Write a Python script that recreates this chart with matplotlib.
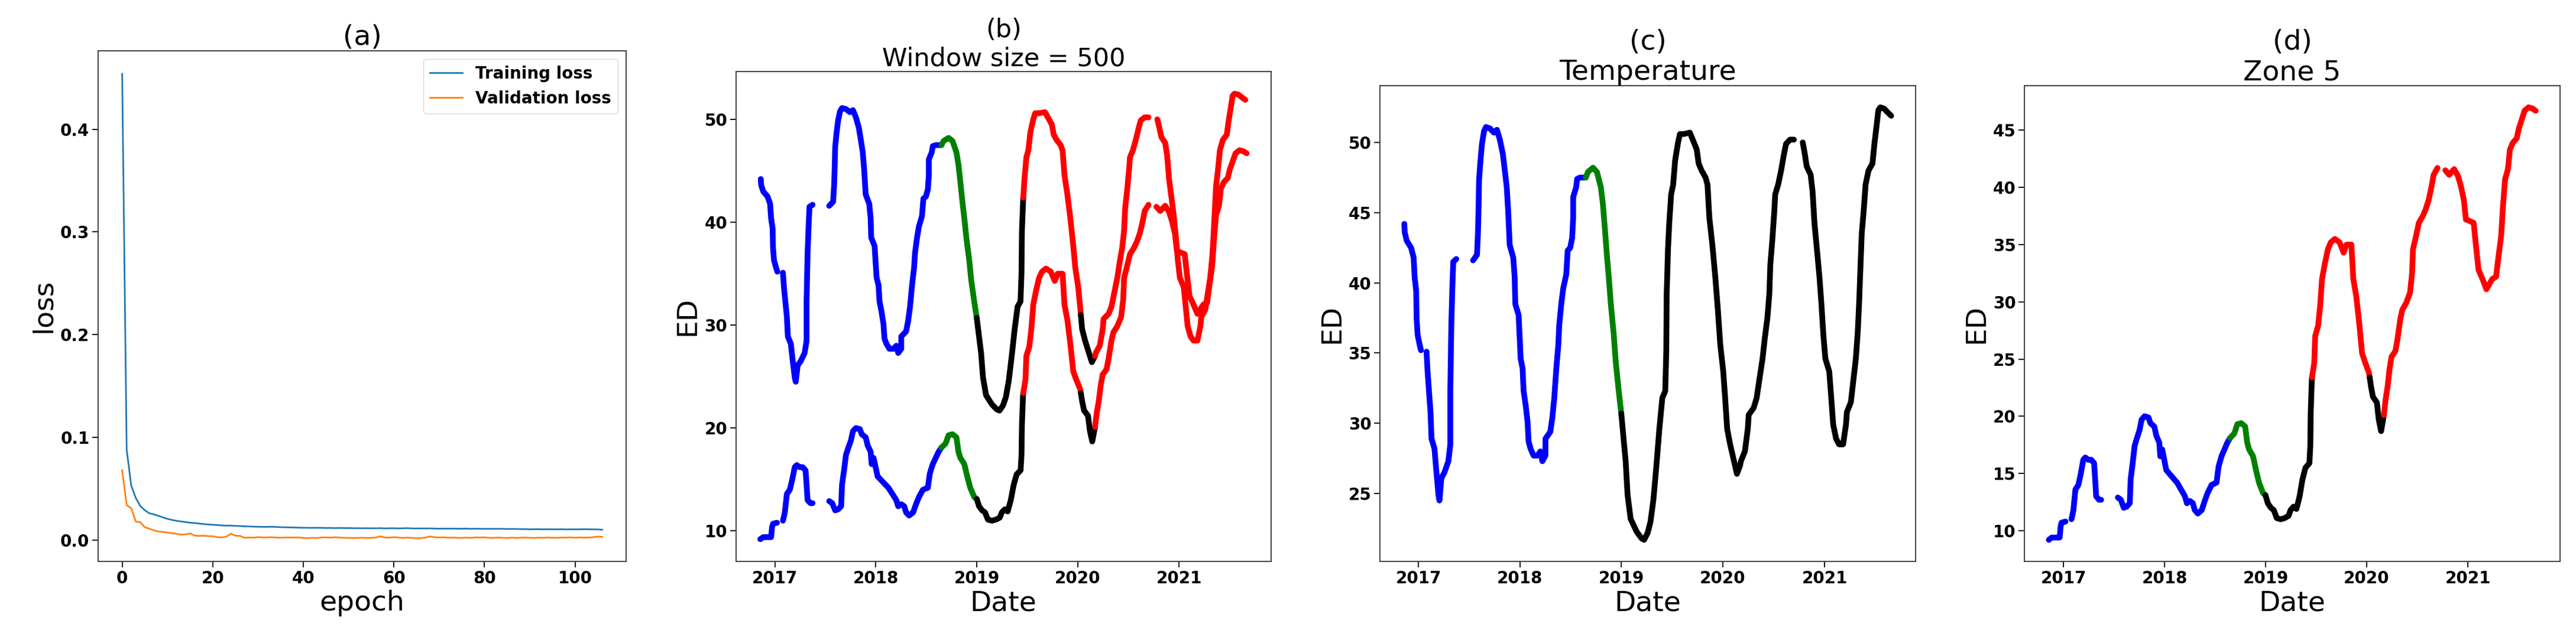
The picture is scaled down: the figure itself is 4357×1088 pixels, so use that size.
import numpy as np
import matplotlib
matplotlib.use('Agg')
import matplotlib.pyplot as plt
import matplotlib.dates as mdates
from datetime import datetime

nan = np.nan

# ---- (a) loss curves ----
train_loss = [0.454, 0.088, 0.053, 0.041, 0.033, 0.029, 0.026, 0.025, 0.0235, 0.022,
              0.0206, 0.0195, 0.0187, 0.018, 0.0175, 0.0168, 0.0165, 0.016, 0.0155, 0.0151,
              0.0148, 0.0146, 0.0142, 0.014, 0.0141, 0.0137, 0.0136, 0.0133, 0.0132, 0.013,
              0.0129, 0.0128, 0.0128, 0.0129, 0.0127, 0.0125, 0.0124, 0.0123, 0.0122, 0.012,
              0.0119, 0.0119, 0.0118, 0.0119, 0.0118, 0.0117, 0.0117, 0.0116, 0.0117, 0.0116,
              0.0116, 0.0115, 0.0115, 0.0114, 0.0115, 0.0114, 0.0114, 0.0115, 0.0113, 0.0114,
              0.0114, 0.0113, 0.0114, 0.0115, 0.0113, 0.0112, 0.0113, 0.0112, 0.0113, 0.0111,
              0.0110, 0.0111, 0.0110, 0.0111, 0.0110, 0.0110, 0.0111, 0.0109, 0.0110, 0.0109,
              0.0108, 0.0109, 0.0108, 0.0109, 0.0108, 0.0107, 0.0108, 0.0107, 0.0106, 0.0106,
              0.0104, 0.0105, 0.0105, 0.0104, 0.0105, 0.0104, 0.0104, 0.0105, 0.0103, 0.0104,
              0.0104, 0.0104, 0.0105, 0.0104, 0.0104, 0.0103, 0.0100]
val_loss = [0.068, 0.034, 0.031, 0.018, 0.0172, 0.0125, 0.011, 0.0093, 0.0082, 0.0078,
            0.0072, 0.0066, 0.006, 0.0052, 0.0055, 0.0064, 0.0043, 0.004, 0.0041, 0.0038,
            0.0036, 0.0028, 0.0025, 0.0032, 0.0061, 0.0042, 0.0040, 0.0022, 0.0024, 0.0023,
            0.0028, 0.0026, 0.0025, 0.0027, 0.0024, 0.0023, 0.0024, 0.0025, 0.0024, 0.0025,
            0.0019, 0.0018, 0.0021, 0.0019, 0.0025, 0.0026, 0.0023, 0.0027, 0.0024, 0.0022,
            0.0020, 0.0019, 0.0020, 0.0022, 0.0019, 0.0021, 0.0024, 0.0036, 0.0025, 0.0023,
            0.0028, 0.0024, 0.0020, 0.0023, 0.0021, 0.0017, 0.0019, 0.0024, 0.0035, 0.0027,
            0.0025, 0.0026, 0.0023, 0.0024, 0.0021, 0.0020, 0.0023, 0.0021, 0.0025, 0.0024,
            0.0026, 0.0021, 0.0020, 0.0024, 0.0021, 0.0019, 0.0023, 0.0020, 0.0022, 0.0024,
            0.0021, 0.0020, 0.0023, 0.0021, 0.0024, 0.0022, 0.0021, 0.0024, 0.0023, 0.0026,
            0.0022, 0.0025, 0.0023, 0.0024, 0.0027, 0.0034, 0.0030]

# ---- ED series (decimal year, value); nan = gap in record ----
upper_years = [2016.863, 2016.867, 2016.887, 2016.930, 2016.955, 2016.965, 2016.980, 2016.984, 2016.994, 2017.014, 2017.027,
               nan,
               2017.082, 2017.092, 2017.111, 2017.121, 2017.131, 2017.160, 2017.176, 2017.199, 2017.209, 2017.228,
               2017.258, 2017.297, 2017.316, 2017.316, 2017.326, 2017.336, 2017.345, 2017.375,
               nan,
               2017.540, 2017.579, 2017.589, 2017.595, 2017.599, 2017.613, 2017.628, 2017.648, 2017.667, 2017.706,
               2017.745, 2017.775, 2017.804, 2017.833, 2017.853, 2017.872, 2017.886, 2017.901, 2017.936, 2017.950,
               2017.956, 2017.989, 2017.999, 2018.009, 2018.028, 2018.038, 2018.058, 2018.077, 2018.087, 2018.106,
               2018.136, 2018.175, 2018.204, 2018.223, 2018.253, 2018.253, 2018.282, 2018.301, 2018.321, 2018.340,
               2018.360, 2018.380, 2018.389, 2018.409, 2018.428, 2018.458, 2018.472, 2018.497, 2018.516, 2018.526,
               2018.526, 2018.555, 2018.565, 2018.594, 2018.633, 2018.650, 2018.672, 2018.721, 2018.760, 2018.799,
               2018.819, 2018.838, 2018.858, 2018.877, 2018.897, 2018.926, 2018.945, 2018.975, 2019.000, 2019.023,
               2019.043, 2019.062, 2019.092, 2019.150, 2019.200, 2019.225, 2019.260, 2019.288, 2019.317, 2019.346,
               2019.375, 2019.404, 2019.433, 2019.443, 2019.447, 2019.460, 2019.472, 2019.491, 2019.511, 2019.530,
               2019.559, 2019.578, 2019.617, 2019.675, 2019.704, 2019.743, 2019.762, 2019.791, 2019.830, 2019.849,
               2019.868, 2019.897, 2019.926, 2019.952, 2019.975, 2020.004, 2020.023, 2020.030, 2020.043, 2020.072,
               2020.110, 2020.139, 2020.170, 2020.178, 2020.217, 2020.246, 2020.255, 2020.304, 2020.333, 2020.362,
               2020.391, 2020.414, 2020.439, 2020.458, 2020.468, 2020.487, 2020.507, 2020.516, 2020.545, 2020.574,
               2020.603, 2020.623, 2020.662, 2020.700,
               nan,
               2020.787, 2020.807, 2020.826, 2020.865, 2020.884, 2020.903, 2020.932, 2020.952, 2020.971, 2020.990,
               2021.010, 2021.048, 2021.068, 2021.087, 2021.116, 2021.145, 2021.184, 2021.213, 2021.222, 2021.261,
               2021.280, 2021.310, 2021.329, 2021.342, 2021.354, 2021.368, 2021.387, 2021.406, 2021.435, 2021.474,
               2021.493, 2021.513, 2021.532, 2021.551, 2021.590, 2021.629, 2021.658]
upper_vals = [44.2, 43.6, 43.0, 42.5, 41.8, 40.4, 39.4, 37.5, 36.3, 35.6, 35.2,
              nan,
              35.1, 33.7, 31.8, 30.8, 28.9, 28.2, 26.8, 24.9, 24.5, 26.1,
              26.5, 27.3, 28.5, 32.3, 37.0, 39.6, 41.5, 41.7,
              nan,
              41.6, 42.0, 43.7, 45.6, 47.3, 48.7, 49.9, 50.8, 51.1, 51.0,
              50.7, 50.9, 50.2, 49.2, 48.0, 46.8, 45.1, 42.7, 41.8, 40.4,
              38.5, 37.7, 36.1, 34.6, 33.9, 32.3, 31.3, 30.1, 28.7, 28.2,
              27.7, 27.7, 28.0, 27.3, 27.7, 28.9, 29.2, 29.4, 30.4, 31.8,
              33.9, 35.6, 37.0, 38.5, 39.6, 40.6, 42.3, 42.5, 43.2, 44.6,
              46.1, 46.8, 47.4, 47.5, 47.5, 47.5, 47.9, 48.2, 47.9, 46.8,
              45.6, 43.9, 42.0, 40.4, 38.5, 36.3, 34.4, 32.3, 30.7, 28.9,
              27.3, 24.9, 23.2, 22.3, 21.8, 21.7, 22.2, 23.0, 24.6, 27.0,
              29.6, 31.8, 32.3, 35.1, 39.2, 42.4, 44.2, 46.3, 47.0, 48.7,
              50.0, 50.6, 50.6, 50.7, 50.2, 49.5, 48.5, 48.0, 47.5, 47.0,
              44.6, 42.7, 40.4, 38.0, 35.6, 33.7, 31.8, 31.0, 29.6, 28.5,
              27.3, 26.4, 27.0, 27.3, 28.0, 29.6, 30.6, 31.1, 31.8, 33.2,
              34.6, 36.1, 37.5, 39.2, 41.3, 43.0, 45.1, 46.3, 47.0, 48.0,
              49.2, 49.9, 50.2, 50.2,
              nan,
              50.0, 49.2, 48.3, 47.7, 46.5, 44.2, 42.0, 40.4, 38.5, 36.3,
              34.6, 33.7, 31.8, 29.9, 28.9, 28.5, 28.5, 29.9, 30.8, 31.5,
              32.7, 34.6, 36.5, 38.5, 40.8, 43.5, 45.1, 47.0, 48.0, 48.5,
              49.9, 51.1, 52.3, 52.5, 52.4, 52.1, 51.9]

lower_years = [2016.858, 2016.887, 2016.926, 2016.965, 2016.975, 2016.984, 2017.023,
               nan,
               2017.082, 2017.101, 2017.121, 2017.150, 2017.170, 2017.199, 2017.219, 2017.248, 2017.277, 2017.306,
               2017.316, 2017.326, 2017.355, 2017.375,
               nan,
               2017.540, 2017.570, 2017.599, 2017.628, 2017.658, 2017.667, 2017.687, 2017.706, 2017.726, 2017.755,
               2017.775, 2017.804, 2017.843, 2017.862, 2017.901, 2017.921, 2017.950, 2017.960, 2017.979, 2017.999,
               2018.019, 2018.048, 2018.087, 2018.126, 2018.165, 2018.204, 2018.223, 2018.253, 2018.282, 2018.301,
               2018.331, 2018.370, 2018.399, 2018.428, 2018.467, 2018.516, 2018.536, 2018.565, 2018.594, 2018.623,
               2018.650, 2018.692, 2018.721, 2018.760, 2018.799, 2018.819, 2018.838, 2018.877, 2018.906, 2018.936,
               2018.975, 2019.000, 2019.023, 2019.053, 2019.082, 2019.111, 2019.150, 2019.189, 2019.228, 2019.248,
               2019.277, 2019.306, 2019.337, 2019.366, 2019.395, 2019.434, 2019.443, 2019.447, 2019.458, 2019.460,
               2019.482, 2019.491, 2019.520, 2019.540, 2019.559, 2019.588, 2019.617, 2019.646, 2019.685, 2019.733,
               2019.772, 2019.801, 2019.849, 2019.868, 2019.897, 2019.926, 2019.955, 2019.985, 2020.023, 2020.030,
               2020.043, 2020.062, 2020.101, 2020.120, 2020.143, 2020.170, 2020.188, 2020.207, 2020.226, 2020.246,
               2020.284, 2020.304, 2020.333, 2020.352, 2020.391, 2020.429, 2020.449, 2020.458, 2020.487, 2020.516,
               2020.555, 2020.584, 2020.613, 2020.642, 2020.662, 2020.700,
               nan,
               2020.778, 2020.816, 2020.865, 2020.903, 2020.932, 2020.961, 2020.981, 2021.010, 2021.058, 2021.077,
               2021.106, 2021.145, 2021.184, 2021.203, 2021.242, 2021.280, 2021.300, 2021.329, 2021.348, 2021.368,
               2021.397, 2021.416, 2021.445, 2021.484, 2021.503, 2021.532, 2021.561, 2021.600, 2021.639, 2021.671]
lower_vals = [9.2, 9.4, 9.4, 9.4, 10.4, 10.7, 10.8,
              nan,
              11.0, 11.8, 13.6, 14.0, 14.8, 16.2, 16.4, 16.2, 16.2, 15.9,
              14.5, 13.0, 12.7, 12.7,
              nan,
              12.9, 12.7, 12.0, 12.1, 12.4, 14.5, 15.9, 17.4, 18.0, 18.8,
              19.7, 20.0, 19.9, 19.4, 19.1, 18.3, 17.7, 16.5, 17.1, 16.2,
              15.3, 15.0, 14.6, 14.2, 13.6, 13.0, 12.4, 12.6, 12.4, 11.8,
              11.5, 11.8, 12.6, 13.3, 14.0, 14.2, 15.6, 16.5, 17.1, 17.7,
              18.1, 18.5, 19.3, 19.4, 19.1, 17.7, 17.1, 16.5, 15.3, 14.2,
              13.3, 13.1, 12.4, 12.0, 11.8, 11.1, 11.0, 11.1, 11.3, 11.8,
              12.1, 11.9, 13.0, 14.5, 15.5, 15.9, 17.4, 20.3, 23.2, 23.4,
              24.7, 27.0, 27.9, 29.6, 32.0, 33.4, 34.6, 35.2, 35.5, 35.2,
              34.3, 35.0, 35.0, 32.0, 30.5, 28.2, 25.5, 24.7, 23.8, 23.4,
              22.6, 21.7, 21.2, 19.7, 18.7, 20.1, 21.5, 22.6, 24.1, 25.2,
              25.7, 26.7, 28.5, 29.3, 29.9, 30.8, 32.5, 34.6, 35.7, 36.9,
              37.5, 38.1, 38.9, 40.1, 41.1, 41.7,
              nan,
              41.5, 41.1, 41.6, 41.0, 40.1, 38.9, 37.2, 37.1, 36.9, 35.2,
              32.8, 32.0, 31.1, 31.4, 32.0, 32.2, 33.7, 35.7, 38.4, 40.7,
              41.6, 43.3, 43.9, 44.3, 45.1, 45.9, 46.7, 47.0, 46.9, 46.7]

# period boundaries (decimal year) and the colour used in each period
bounds_full = [2018.65, 2019.0, 2019.46, 2020.03, 2020.17]
colors_full = ['blue', 'green', 'black', 'red', 'black', 'red']
bounds_temp = [2018.65, 2019.0]
colors_temp = ['blue', 'green', 'black']


def to_datenum(years):
    yrs = np.asarray(years, dtype=float)
    return mdates.date2num(datetime(2016, 1, 1)) + (yrs - 2016.0) * 365.25


def plot_phases(ax, years, vals, bounds, colors):
    yrs = np.asarray(years, dtype=float)
    v_all = np.asarray(vals, dtype=float)
    x = to_datenum(yrs)
    edges = [-np.inf] + bounds + [np.inf]
    for i, c in enumerate(colors):
        v = v_all.copy()
        v[(yrs < edges[i]) | (yrs > edges[i + 1])] = nan
        ax.plot(x, v, color=c, lw=7, solid_capstyle='round', solid_joinstyle='round')


def style_ax(ax):
    for sp in ax.spines.values():
        sp.set_linewidth(1.3)
        sp.set_color('#333333')
    ax.tick_params(length=7, width=1.3, labelsize=20)
    for lab in ax.get_xticklabels() + ax.get_yticklabels():
        lab.set_fontweight('bold')


def date_axis(ax):
    ax.xaxis.set_major_locator(mdates.YearLocator())
    ax.xaxis.set_major_formatter(mdates.DateFormatter('%Y'))


fig = plt.figure(figsize=(43.57, 10.88), dpi=100)

# (a)
ax1 = fig.add_axes([0.0381, 0.1268, 0.2050, 0.7945])
epochs = np.arange(len(train_loss))
ax1.plot(epochs, train_loss, color='#1f77b4', lw=2, label='Training loss')
ax1.plot(epochs, val_loss, color='#ff7f0e', lw=2, label='Validation loss')
ax1.set_title('(a)', fontsize=34)
ax1.set_xlabel('epoch', fontsize=34)
ax1.set_ylabel('loss', fontsize=34)
ax1.set_yticks([0.0, 0.1, 0.2, 0.3, 0.4])
ax1.legend(loc='upper right', prop={'weight': 'bold', 'size': 20})
style_ax(ax1)

# (b)
ax2 = fig.add_axes([0.2857, 0.1268, 0.2077, 0.7622])
plot_phases(ax2, upper_years, upper_vals, bounds_full, colors_full)
plot_phases(ax2, lower_years, lower_vals, bounds_full, colors_full)
date_axis(ax2)
ax2.set_title('(b)\nWindow size = 500', fontsize=31)
ax2.set_xlabel('Date', fontsize=34)
ax2.set_ylabel('ED', fontsize=34)
ax2.set_yticks([10, 20, 30, 40, 50])
style_ax(ax2)

# (c)
ax3 = fig.add_axes([0.5357, 0.1268, 0.2079, 0.7399])
plot_phases(ax3, upper_years, upper_vals, bounds_temp, colors_temp)
date_axis(ax3)
ax3.set_title('(c)\nTemperature', fontsize=34)
ax3.set_xlabel('Date', fontsize=34)
ax3.set_ylabel('ED', fontsize=34)
style_ax(ax3)

# (d)
ax4 = fig.add_axes([0.7859, 0.1268, 0.2079, 0.7399])
plot_phases(ax4, lower_years, lower_vals, bounds_full, colors_full)
date_axis(ax4)
ax4.set_title('(d)\nZone 5', fontsize=34)
ax4.set_xlabel('Date', fontsize=34)
ax4.set_ylabel('ED', fontsize=34)
style_ax(ax4)

fig.savefig('out.png', dpi=100)
